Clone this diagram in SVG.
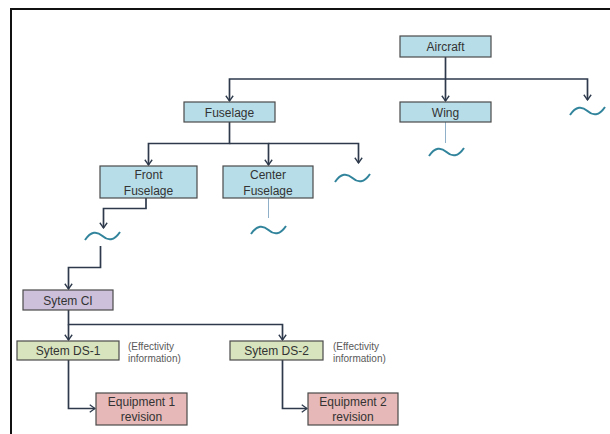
<svg xmlns="http://www.w3.org/2000/svg" xmlns:xlink="http://www.w3.org/1999/xlink" width="610" height="434" viewBox="0 0 610 434">
<style>
.box{stroke:#4a4a4a;stroke-width:1.2}
.blue{fill:#b7dde8}
.lav{fill:#ccc0da}
.grn{fill:#d7e4bd}
.pink{fill:#e6b8b7}
.lbl{font-family:"Liberation Sans",Arial,sans-serif;font-size:12px;fill:#333;text-anchor:middle}
.note{font-family:"Liberation Sans",Arial,sans-serif;font-size:10px;fill:#595959}
.con{fill:none;stroke:#2e3a4c;stroke-width:1.7}
.thin{fill:none;stroke:#8fb0c8;stroke-width:1}
.tl{fill:none;stroke:#31849b;stroke-width:2}
</style>
<defs>
<marker id="arr" viewBox="0 0 8 10" refX="7" refY="5" markerWidth="7" markerHeight="10" markerUnits="userSpaceOnUse" orient="auto">
<path d="M1,0.8 L7,5 L1,9.2" fill="none" stroke="#2e3a4c" stroke-width="1.5"/>
</marker>
<path id="tilde" class="tl" d="M0,9 C6,0 12,0 17.5,5 S29,10 35,1"/>
</defs>
<rect x="0" y="0" width="610" height="434" fill="#fff"/>
<path d="M11,434 V9 H610" fill="none" stroke="#111" stroke-width="2"/>
<g id="connectors">
<path class="con" d="M445.5,57 V101" marker-end="url(#arr)"/>
<path class="con" d="M445.5,79 H229.5 V101" marker-end="url(#arr)"/>
<path class="con" d="M445.5,79 H587.5 V100" marker-end="url(#arr)"/>
<path class="con" d="M229.5,122 V143.5 H148.5 V165" marker-end="url(#arr)"/>
<path class="con" d="M229.5,143.5 H268.5 V165" marker-end="url(#arr)"/>
<path class="con" d="M268.5,143.5 H358.5 V163" marker-end="url(#arr)"/>
<path class="con" d="M146,198 V208.5 H103.5 V228" marker-end="url(#arr)"/>
<path class="con" d="M100.5,246 V267.5 H68.5 V289" marker-end="url(#arr)"/>
<path class="con" d="M68.5,310 V324.5 H282.5 V340" marker-end="url(#arr)"/>
<path class="con" d="M68.5,324.5 V340" marker-end="url(#arr)"/>
<path class="con" d="M68.5,360 V408.5 H95" marker-end="url(#arr)"/>
<path class="con" d="M282.5,360 V408.5 H307" marker-end="url(#arr)"/>
<path class="thin" d="M445.5,122 V143"/>
<path class="thin" d="M268.5,198 V218"/>
</g>
<g id="tildes">
<use xlink:href="#tilde" x="570" y="106"/>
<use xlink:href="#tilde" x="429" y="147"/>
<use xlink:href="#tilde" x="335" y="173"/>
<use xlink:href="#tilde" x="85" y="231"/>
<use xlink:href="#tilde" x="251" y="225"/>
</g>
<g id="aircraft"><rect class="box blue" x="400" y="36" width="91" height="21"/><text class="lbl" x="445.5" y="51">Aircraft</text></g>
<g id="fuselage"><rect class="box blue" x="184" y="102" width="91" height="20"/><text class="lbl" x="229.5" y="116.5">Fuselage</text></g>
<g id="wing"><rect class="box blue" x="400" y="102" width="91" height="20"/><text class="lbl" x="445.5" y="116.5">Wing</text></g>
<g id="front-fuselage"><rect class="box blue" x="100" y="166" width="97" height="32"/><text class="lbl" x="148.5" y="178.5">Front</text><text class="lbl" x="148.5" y="194.5">Fuselage</text></g>
<g id="center-fuselage"><rect class="box blue" x="223" y="166" width="90" height="32"/><text class="lbl" x="268" y="178.5">Center</text><text class="lbl" x="268" y="194.5">Fuselage</text></g>
<g id="sytem-ci"><rect class="box lav" x="23" y="290" width="90" height="20"/><text class="lbl" x="68" y="304.5">Sytem CI</text></g>
<g id="sytem-ds1"><rect class="box grn" x="17" y="341" width="102" height="19"/><text class="lbl" x="68" y="355">Sytem DS-1</text></g>
<g id="note1"><text class="note" x="128" y="349.5">(Effectivity</text><text class="note" x="128" y="362">information)</text></g>
<g id="sytem-ds2"><rect class="box grn" x="230" y="341" width="93" height="19"/><text class="lbl" x="276.5" y="355">Sytem DS-2</text></g>
<g id="note2"><text class="note" x="333" y="349.5">(Effectivity</text><text class="note" x="333" y="362">information)</text></g>
<g id="equipment1"><rect class="box pink" x="96" y="393" width="91" height="32"/><text class="lbl" x="141.5" y="406">Equipment 1</text><text class="lbl" x="141.5" y="421">revision</text></g>
<g id="equipment2"><rect class="box pink" x="308" y="393" width="90" height="32"/><text class="lbl" x="353" y="406">Equipment 2</text><text class="lbl" x="353" y="421">revision</text></g>
</svg>
